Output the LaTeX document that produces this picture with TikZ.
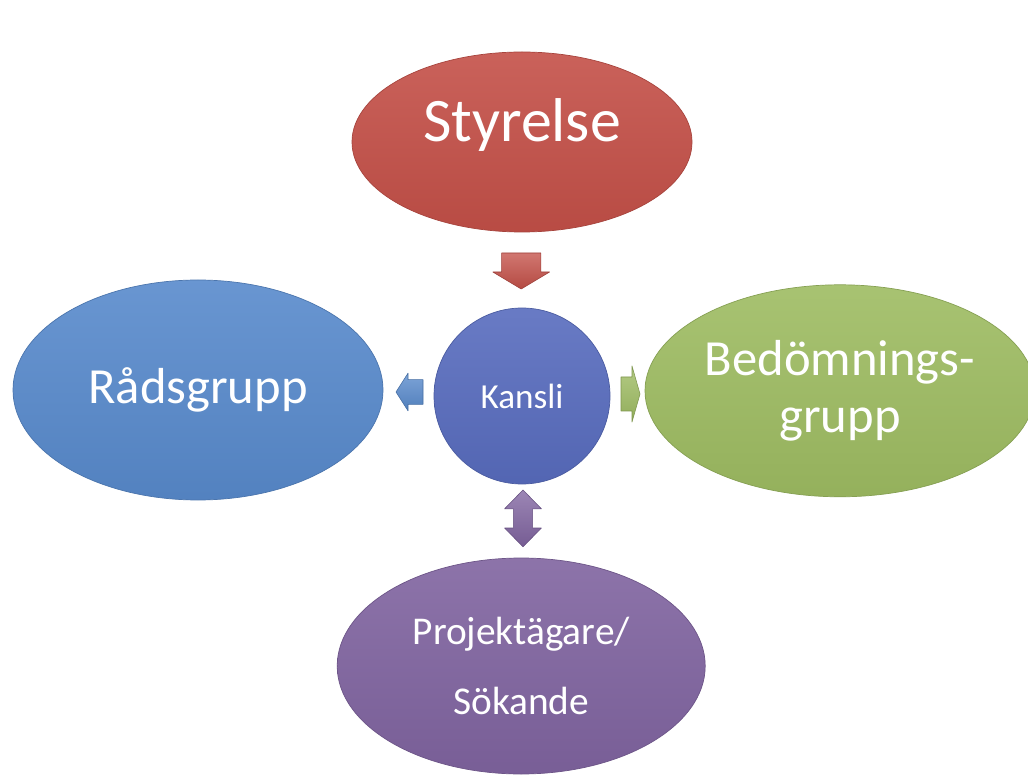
\documentclass[tikz,border=0pt]{standalone}
\usepackage{fontspec}
\setmainfont{Carlito}
\usetikzlibrary{shapes.geometric}

\definecolor{redS}{RGB}{196,80,72}
\definecolor{blueR}{RGB}{88,138,204}
\definecolor{blueK}{RGB}{88,108,190}
\definecolor{greenB}{RGB}{158,188,98}
\definecolor{purpleP}{RGB}{128,100,160}

\begin{document}
\begin{tikzpicture}
    \tikzstyle{blob}=[ellipse,draw=#1!85!black,line width=0.5pt,top color=#1!90!white,bottom color=#1!94!black,text=white,inner sep=0pt,align=center]
    \tikzstyle{pil}=[draw=#1!80!black,line width=0.4pt,top color=#1!78!white,bottom color=#1!92!black,line join=round]
    \useasboundingbox[fill=white] (0,0) rectangle (25.7,19.45);
    \node[blob=redS,minimum width=8.5cm,minimum height=4.5cm] (styrelse) at (13.05,15.9) {};
    \node[text=white,anchor=base,font=\fontsize{44}{50}\selectfont] (styrelsetext) at (styrelse.center) {Styrelse};
    \node[blob=blueK,circle,minimum size=4.4cm,font=\fontsize{25}{30}\selectfont] (kansli) at (13.05,9.55) {Kansli};
    \node[blob=blueR,minimum width=9.25cm,minimum height=5.5cm,font=\fontsize{36}{44}\selectfont] (rad) at (4.95,9.7) {Rådsgrupp};
    \node[blob=greenB,minimum width=9.75cm,minimum height=5.3cm,font=\fontsize{36}{40}\selectfont] (bedom) at (21.0,9.68) {Bedömnings-\\grupp};
    \node[blob=purpleP,minimum width=9.2cm,minimum height=5.4cm,font=\fontsize{28}{50}\selectfont] (projekt) at (13.03,2.8) {Projektägare/\\Sökande};
    % block arrows round Kansli
    \coordinate (pilS) at (13.03,12.65);
    \coordinate (pilR) at (10.2,9.65);
    \coordinate (pilB) at (15.8,9.6);
    \coordinate (pilP) at (13.075,6.49);
    \draw[pil=redS,shift={(pilS)}] (-0.49,0.475) -- (0.49,0.475) -- (0.49,0) -- (0.71,0) -- (0,-0.425) -- (-0.71,0) -- (-0.49,0) -- cycle;
    \draw[pil=blueR,shift={(pilR)}] (0.375,0.31) -- (0,0.31) -- (0,0.47) -- (-0.3,0) -- (0,-0.47) -- (0,-0.31) -- (0.375,-0.31) -- cycle;
    \draw[pil=greenB,shift={(pilB)}] (-0.275,0.425) -- (0,0.425) -- (0,0.7) -- (0.2,0) -- (0,-0.7) -- (0,-0.425) -- (-0.275,-0.425) -- cycle;
    \draw[pil=purpleP,shift={(pilP)}] (0,0.71) -- (0.46,0.24) -- (0.24,0.24) -- (0.24,-0.24) -- (0.46,-0.24) -- (0,-0.71) -- (-0.46,-0.24) -- (-0.24,-0.24) -- (-0.24,0.24) -- (-0.46,0.24) -- cycle;
\end{tikzpicture}
\end{document}
